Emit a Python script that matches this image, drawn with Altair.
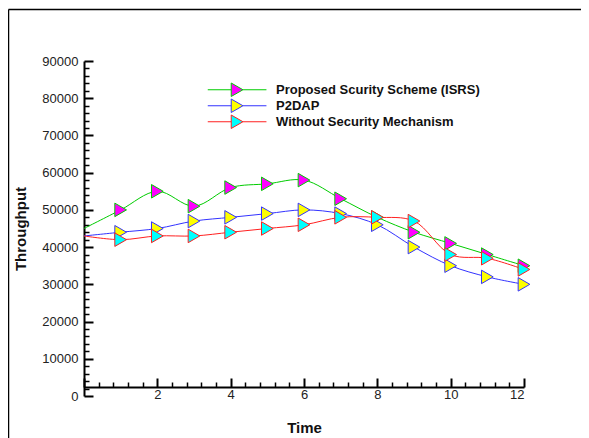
import altair as alt
import pandas as pd

time = list(range(0, 13))
series_names = ["Proposed Scurity Scheme (ISRS)", "P2DAP", "Without Security Mechanism"]
isrs = [45000, 50000, 55000, 51000, 56000, 57000, 58000, 53000, 48000, 44000, 41000, 38000, 35000]
p2dap = [43000, 44000, 45000, 47000, 48000, 49000, 50000, 49000, 46000, 40000, 35000, 32000, 30000]
wsm = [43000, 42000, 43000, 43000, 44000, 45000, 46000, 48000, 48000, 47000, 38000, 37000, 34000]
line_colors = ["#00cc00", "#3333ff", "#ff2020"]
fill_colors = ["#ff00ff", "#ffff00", "#00ffff"]

x_major = [0, 2, 4, 6, 8, 10, 12]
x_minor = [round(0.4 * i, 1) for i in range(1, 31) if (0.4 * i) % 2 > 0.01 and (0.4 * i) % 2 < 1.99]
y_major = list(range(0, 90001, 10000))
y_minor = [v for v in range(0, 90001, 2000) if v % 10000 != 0]

rows = []
for name, vals in zip(series_names, [isrs, p2dap, wsm]):
    for t, v in zip(time, vals):
        rows.append({"time": t, "value": v, "series": name})
df = pd.DataFrame(rows)

W, H = 440, 335
PAD_R = 57
FONT = "Liberation Sans"

xs = alt.Scale(domain=[0, 12], nice=False, zero=False)
ys = alt.Scale(domain=[0, 90000], nice=False)
stroke_scale = alt.Scale(domain=series_names, range=line_colors)
fill_scale = alt.Scale(domain=series_names, range=fill_colors)

x_label_axis = alt.Axis(orient="bottom", offset=-8, values=x_major[1:], ticks=False, tickSize=0,
                        domain=False, grid=False, labelFont=FONT, labelFontSize=13, labelColor="#222222",
                        labelBaseline="top", labelPadding=0, title="Time", titleFont=FONT,
                        titleFontSize=15, titleFontWeight="bold", titleColor="#111111", titlePadding=19)
y_label_axis = alt.Axis(orient="left", values=y_major, format="d", ticks=False, tickSize=0, domain=False,
                        grid=False, labelFont=FONT, labelFontSize=13, labelColor="#222222", labelPadding=6,
                        title="Throughput", titleFont=FONT, titleFontSize=15, titleFontWeight="bold",
                        titleColor="#111111", titlePadding=13)

# legend symbol: line with triangle in the middle, drawn to the right of the entry's left edge
legend_path = "M-1,0L2.48,0M4.22,0L7.7,0M2.48,-1L4.22,0L2.48,1Z"
leg = alt.Legend(orient="none", legendX=123, legendY=21, title=None, symbolType=legend_path,
                 symbolSize=182, symbolStrokeWidth=1, labelFont=FONT, labelFontSize=13,
                 labelFontWeight="bold", labelColor="#111111", labelOffset=54, rowPadding=0,
                 clipHeight=15.5, labelLimit=400, symbolOpacity=1)

lines = alt.Chart(df).mark_line(interpolate="catmull-rom", strokeWidth=1).encode(
    x=alt.X("time:Q", scale=xs, axis=x_label_axis),
    y=alt.Y("value:Q", scale=ys, axis=y_label_axis),
    stroke=alt.Stroke("series:N", scale=stroke_scale, legend=leg),
    detail="series:N",
)

points = alt.Chart(df).transform_filter("datum.time >= 1").mark_point(
    shape="triangle-right", filled=True, size=182, strokeWidth=1, opacity=1
).encode(
    x=alt.X("time:Q", scale=xs, axis=None),
    y=alt.Y("value:Q", scale=ys, axis=None),
    fill=alt.Fill("series:N", scale=fill_scale, legend=leg),
    stroke=alt.Stroke("series:N", scale=stroke_scale, legend=leg),
)

tick_base = alt.Chart(pd.DataFrame({"time": [0, 12], "value": [0, 90000]})).mark_point(opacity=0)

major_ticks = tick_base.encode(
    x=alt.X("time:Q", scale=xs, axis=alt.Axis(orient="top", offset=-(H - 9), values=x_major, labels=False,
                                              title=None, grid=False, domain=True, domainColor="black",
                                              domainWidth=2, tickColor="black", tickWidth=2, tickSize=9)),
    y=alt.Y("value:Q", scale=ys, axis=alt.Axis(orient="right", offset=-W, values=y_major, labels=False,
                                               title=None, grid=False, domain=True, domainColor="black",
                                               domainWidth=2, tickColor="black", tickWidth=2, tickSize=9)),
)
minor_ticks = tick_base.encode(
    x=alt.X("time:Q", scale=xs, axis=alt.Axis(orient="top", offset=-(H - 9), values=x_minor, labels=False,
                                              title=None, grid=False, domain=False, tickColor="black",
                                              tickWidth=1.5, tickSize=5)),
    y=alt.Y("value:Q", scale=ys, axis=alt.Axis(orient="right", offset=-W, values=y_minor, labels=False,
                                               title=None, grid=False, domain=False, tickColor="black",
                                               tickWidth=1.5, tickSize=5)),
)

one = pd.DataFrame({"a": [0]})
frame_left = alt.Chart(one).mark_rule(stroke="black", strokeWidth=1.5, clip=False).encode(
    x=alt.value(-75.5), y=alt.value(-51.5), y2=alt.value(H + 42))
frame_top = alt.Chart(one).mark_rule(stroke="black", strokeWidth=1.5, clip=False).encode(
    x=alt.value(-75.5), x2=alt.value(W + PAD_R), y=alt.value(-51.5))

chart = alt.layer(frame_left, frame_top, lines, points, minor_ticks, major_ticks).resolve_axis(
    x="independent", y="independent"
).properties(
    width=W, height=H,
    autosize=alt.AutoSizeParams(type="none"),
    padding={"left": 76, "top": 53, "right": PAD_R, "bottom": 42},
    background="white",
).configure_view(stroke=None)

chart.save("out.html", embed_options={"renderer": "svg", "actions": False})
